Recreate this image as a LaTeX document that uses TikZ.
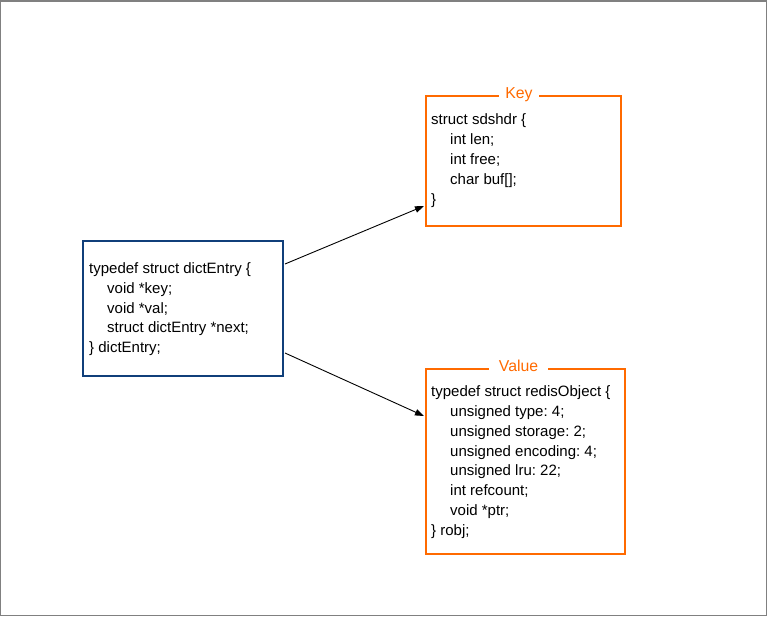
\documentclass[tikz,border=0pt]{standalone}
\usepackage{fontspec}
\setmainfont{Liberation Sans}
\frenchspacing
\usetikzlibrary{arrows.meta}
\definecolor{dictblue}{RGB}{16,63,122}
\definecolor{keyorange}{RGB}{255,106,0}
\definecolor{framegray}{RGB}{128,128,128}
\begin{document}
\begin{tikzpicture}[x=1pt,y=-1pt,
  dictbox/.style={draw=dictblue, line width=2pt, inner sep=0pt},
  orbox/.style={draw=keyorange, line width=2pt, inner sep=0pt},
  code/.style={anchor=base west, inner sep=0pt, font=\fontsize{15}{19.8}\selectfont},
  lbl/.style={anchor=base, fill=white, text=keyorange, inner ysep=3pt, font=\fontsize{15.8}{18}\selectfont},
  conn/.style={line width=0.9pt, -{Triangle[length=9pt,width=6.5pt]}}]
\useasboundingbox (0,0) rectangle (768,617);
\draw[framegray, line width=1.2pt] (0.6,1) rectangle (766.4,615.6);

\node[dictbox, minimum width=200pt, minimum height=135pt] (dict) at (183,308.5) {};
\node[orbox, minimum width=195pt, minimum height=130pt] (key) at (523.5,161) {};
\node[orbox, minimum width=199pt, minimum height=185pt] (val) at (525.5,461.5) {};

\node[lbl, inner xsep=6pt] (keylbl) at (519,98.5) {Key};
\node[lbl, inner xsep=10pt] (vallbl) at (518.5,371.8) {Value};

\node[code] (d1) at (89,273.5) {typedef struct dictEntry \{};
\node[code] (d2) at (107,293.3) {void *key;};
\node[code] (d3) at (107,313.1) {void *val;};
\node[code] (d4) at (107,332.9) {struct dictEntry *next;};
\node[code] (d5) at (89,352.7) {\} dictEntry;};

\node[code] (k1) at (431,125) {struct sdshdr \{};
\node[code] (k2) at (450,144.8) {int len;};
\node[code] (k3) at (450,164.6) {int free;};
\node[code] (k4) at (450,184.4) {char buf[];};
\node[code] (k5) at (431,204.2) {\}};

\node[code] (v1) at (431,396.7) {typedef struct redisObject \{};
\node[code] (v2) at (450,416.5) {unsigned type: 4;};
\node[code] (v3) at (450,436.3) {unsigned storage: 2;};
\node[code] (v4) at (450,456.1) {unsigned encoding: 4;};
\node[code] (v5) at (450,475.9) {unsigned lru: 22;};
\node[code] (v6) at (450,495.7) {int refcount;};
\node[code] (v7) at (450,515.5) {void *ptr;};
\node[code] (v8) at (431,535.3) {\} robj;};

\draw[conn] ([xshift=1pt,yshift=44.5pt]dict.east) -- ([xshift=-1pt,yshift=-45pt]key.west);
\draw[conn] ([xshift=1pt,yshift=-44.5pt]dict.east) -- ([xshift=-1pt,yshift=45.5pt]val.west);
\end{tikzpicture}
\end{document}
